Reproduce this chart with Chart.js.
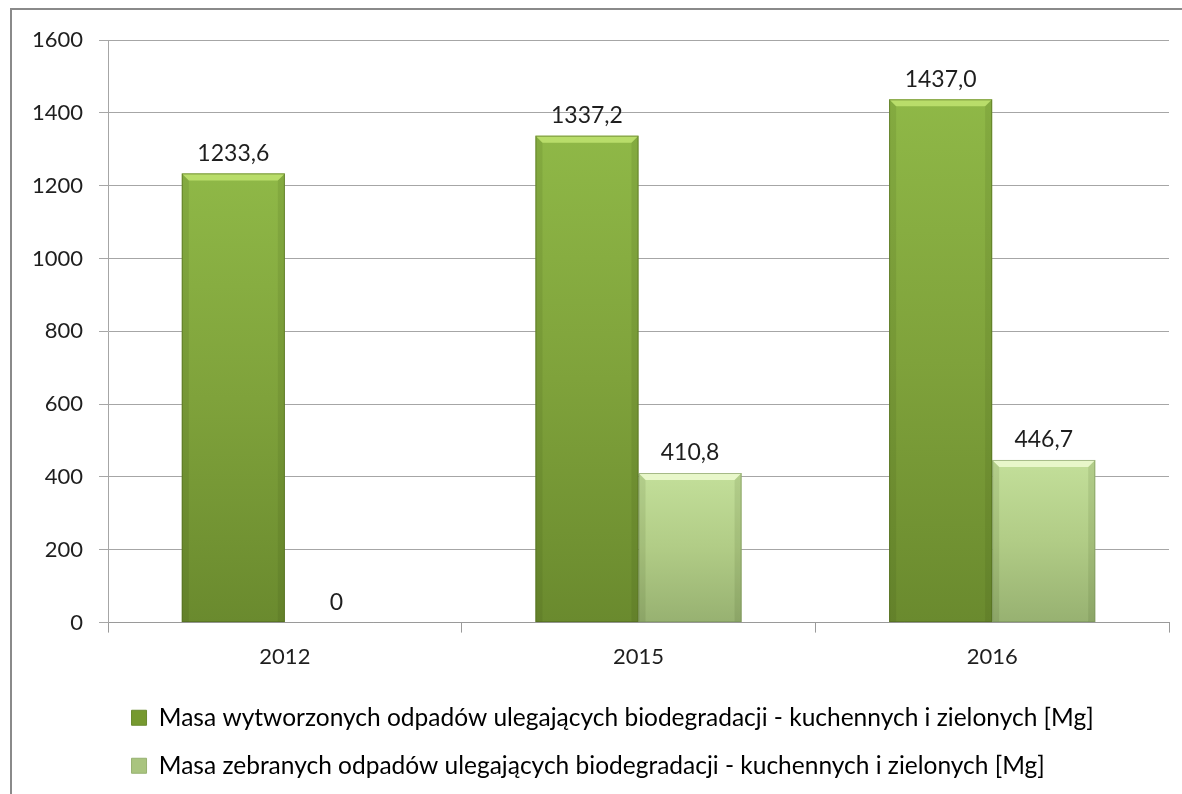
<!DOCTYPE html>
<html><head><meta charset="utf-8">
<script src="https://cdn.jsdelivr.net/npm/chart.js@4/dist/chart.umd.min.js"></script>
<style>
html,body{margin:0;padding:0;background:#fff;}
#wrap{position:relative;width:1182px;height:794px;overflow:hidden;}
#frame{position:absolute;left:10px;top:8px;width:1200px;height:800px;border-left:2px solid #8a8a8a;border-top:2px solid #8a8a8a;pointer-events:none;}
canvas{position:absolute;left:0;top:0;}
</style></head>
<body><div id="wrap"><canvas id="c" width="1182" height="794"></canvas><div id="frame"></div></div>
<script>
const categories = ['2012', '2015', '2016'];
const seriesNames = [
  'Masa wytworzonych odpadów ulegających biodegradacji - kuchennych i zielonych [Mg]',
  'Masa zebranych odpadów ulegających biodegradacji - kuchennych i zielonych [Mg]'
];
const wytworzone = [1233.6, 1337.2, 1437.0];
const zebrane = [0, 410.8, 446.7];
const yTicksMin = 0, yTicksMax = 1600, yTicksStep = 200;

const FONT = 'Lato';
const palettes = [
  {top:'#8fb847', mid:'#7fa23b', bot:'#6a8a2e', solid:'#76992f'},
  {top:'#c3df9a', mid:'#b1cc86', bot:'#97b171', solid:'#a9c47f'}
];
function makeBg(pi){
  return function(ctx){
    const chart = ctx.chart; const p = palettes[pi];
    if(!chart.chartArea || ctx.raw === undefined) return p.solid;
    const ys = chart.scales.y;
    const t = ys.getPixelForValue(ctx.raw), b = ys.getPixelForValue(0);
    if (!(b - t > 1)) return p.solid;
    const g = chart.ctx.createLinearGradient(0, t, 0, b);
    g.addColorStop(0, p.top); g.addColorStop(0.5, p.mid); g.addColorStop(1, p.bot);
    return g;
  };
}
const fmt = v => v === 0 ? '0' : v.toFixed(1).replace('.', ',');

const bevelPlugin = {
  id:'bevel',
  afterDatasetsDraw(chart){
    const c = chart.ctx;
    chart.data.datasets.forEach((ds, di) => {
      chart.getDatasetMeta(di).data.forEach(el => {
        const {x, y, base, width} = el.getProps(['x','y','base','width'], true);
        const h = base - y; if (h < 4) return;
        const l = x - width/2, r = x + width/2, bv = 7;
        c.save();
        c.fillStyle = di === 0 ? 'rgba(195,230,115,0.8)' : 'rgba(238,252,210,0.85)';
        c.beginPath(); c.moveTo(l, y); c.lineTo(r, y); c.lineTo(r-bv, y+bv); c.lineTo(l+bv, y+bv); c.closePath(); c.fill();
        c.fillStyle = 'rgba(40,60,10,0.10)';
        c.beginPath(); c.moveTo(l, y); c.lineTo(l+bv, y+bv); c.lineTo(l+bv, base); c.lineTo(l, base); c.closePath(); c.fill();
        c.beginPath(); c.moveTo(r, y); c.lineTo(r-bv, y+bv); c.lineTo(r-bv, base); c.lineTo(r, base); c.closePath(); c.fill();
        c.strokeStyle = di === 0 ? 'rgba(80,105,30,0.6)' : 'rgba(120,145,90,0.6)';
        c.lineWidth = 1;
        c.strokeRect(l+0.5, y+0.5, width-1, h-1);
        c.restore();
      });
    });
  }
};
const labelPlugin = {
  id:'vlabels',
  afterDatasetsDraw(chart){
    const c = chart.ctx;
    c.save();
    c.font = '23px ' + FONT; c.fillStyle = '#1e1e1e'; c.textAlign = 'center'; c.textBaseline = 'middle';
    chart.data.datasets.forEach((ds, di) => {
      chart.getDatasetMeta(di).data.forEach((el, i) => {
        const {x, y} = el.getProps(['x','y'], true);
        c.fillText(fmt(ds.data[i]), x, y - 20);
      });
    });
    c.restore();
  }
};

new Chart(document.getElementById('c'), {
  type:'bar',
  data:{
    labels: categories,
    datasets:[
      {label: seriesNames[0], data: wytworzone, backgroundColor: makeBg(0)},
      {label: seriesNames[1], data: zebrane, backgroundColor: makeBg(1)}
    ]
  },
  options:{
    responsive:false, animation:false,
    layout:{padding:{left:16, right:13, top:40, bottom:6}},
    datasets:{bar:{categoryPercentage:0.583, barPercentage:1.0}},
    scales:{
      x:{
        grid:{display:true, drawOnChartArea:false, drawTicks:true, tickLength:10, color:'#9a9a9a'},
        border:{display:true, color:'#9a9a9a'},
        ticks:{font:{family:FONT, size:22}, color:'#1e1e1e', padding:11.5}
      },
      y:{
        min:yTicksMin, max:yTicksMax,
        grid:{color:'#a6a6a6', tickLength:9, drawTicks:true},
        border:{display:true, color:'#a6a6a6'},
        ticks:{stepSize:yTicksStep, font:{family:FONT, size:22}, color:'#1e1e1e', padding:16,
          callback: v => String(v)}
      }
    },
    plugins:{
      tooltip:{enabled:false},
      legend:{
        position:'bottom', align:'start', fullSize:false,
        labels:{
          font:{family:FONT, size:24.5}, color:'#1e1e1e', boxWidth:15, boxHeight:15, padding:23.5,
          generateLabels(chart){
            return chart.data.datasets.map((d, i) => ({
              text: d.label, fillStyle: palettes[i].solid, strokeStyle: palettes[i].bot, lineWidth:1,
              hidden:false, datasetIndex:i
            }));
          }
        }
      }
    }
  },
  plugins:[bevelPlugin, labelPlugin]
});
</script></body></html>
